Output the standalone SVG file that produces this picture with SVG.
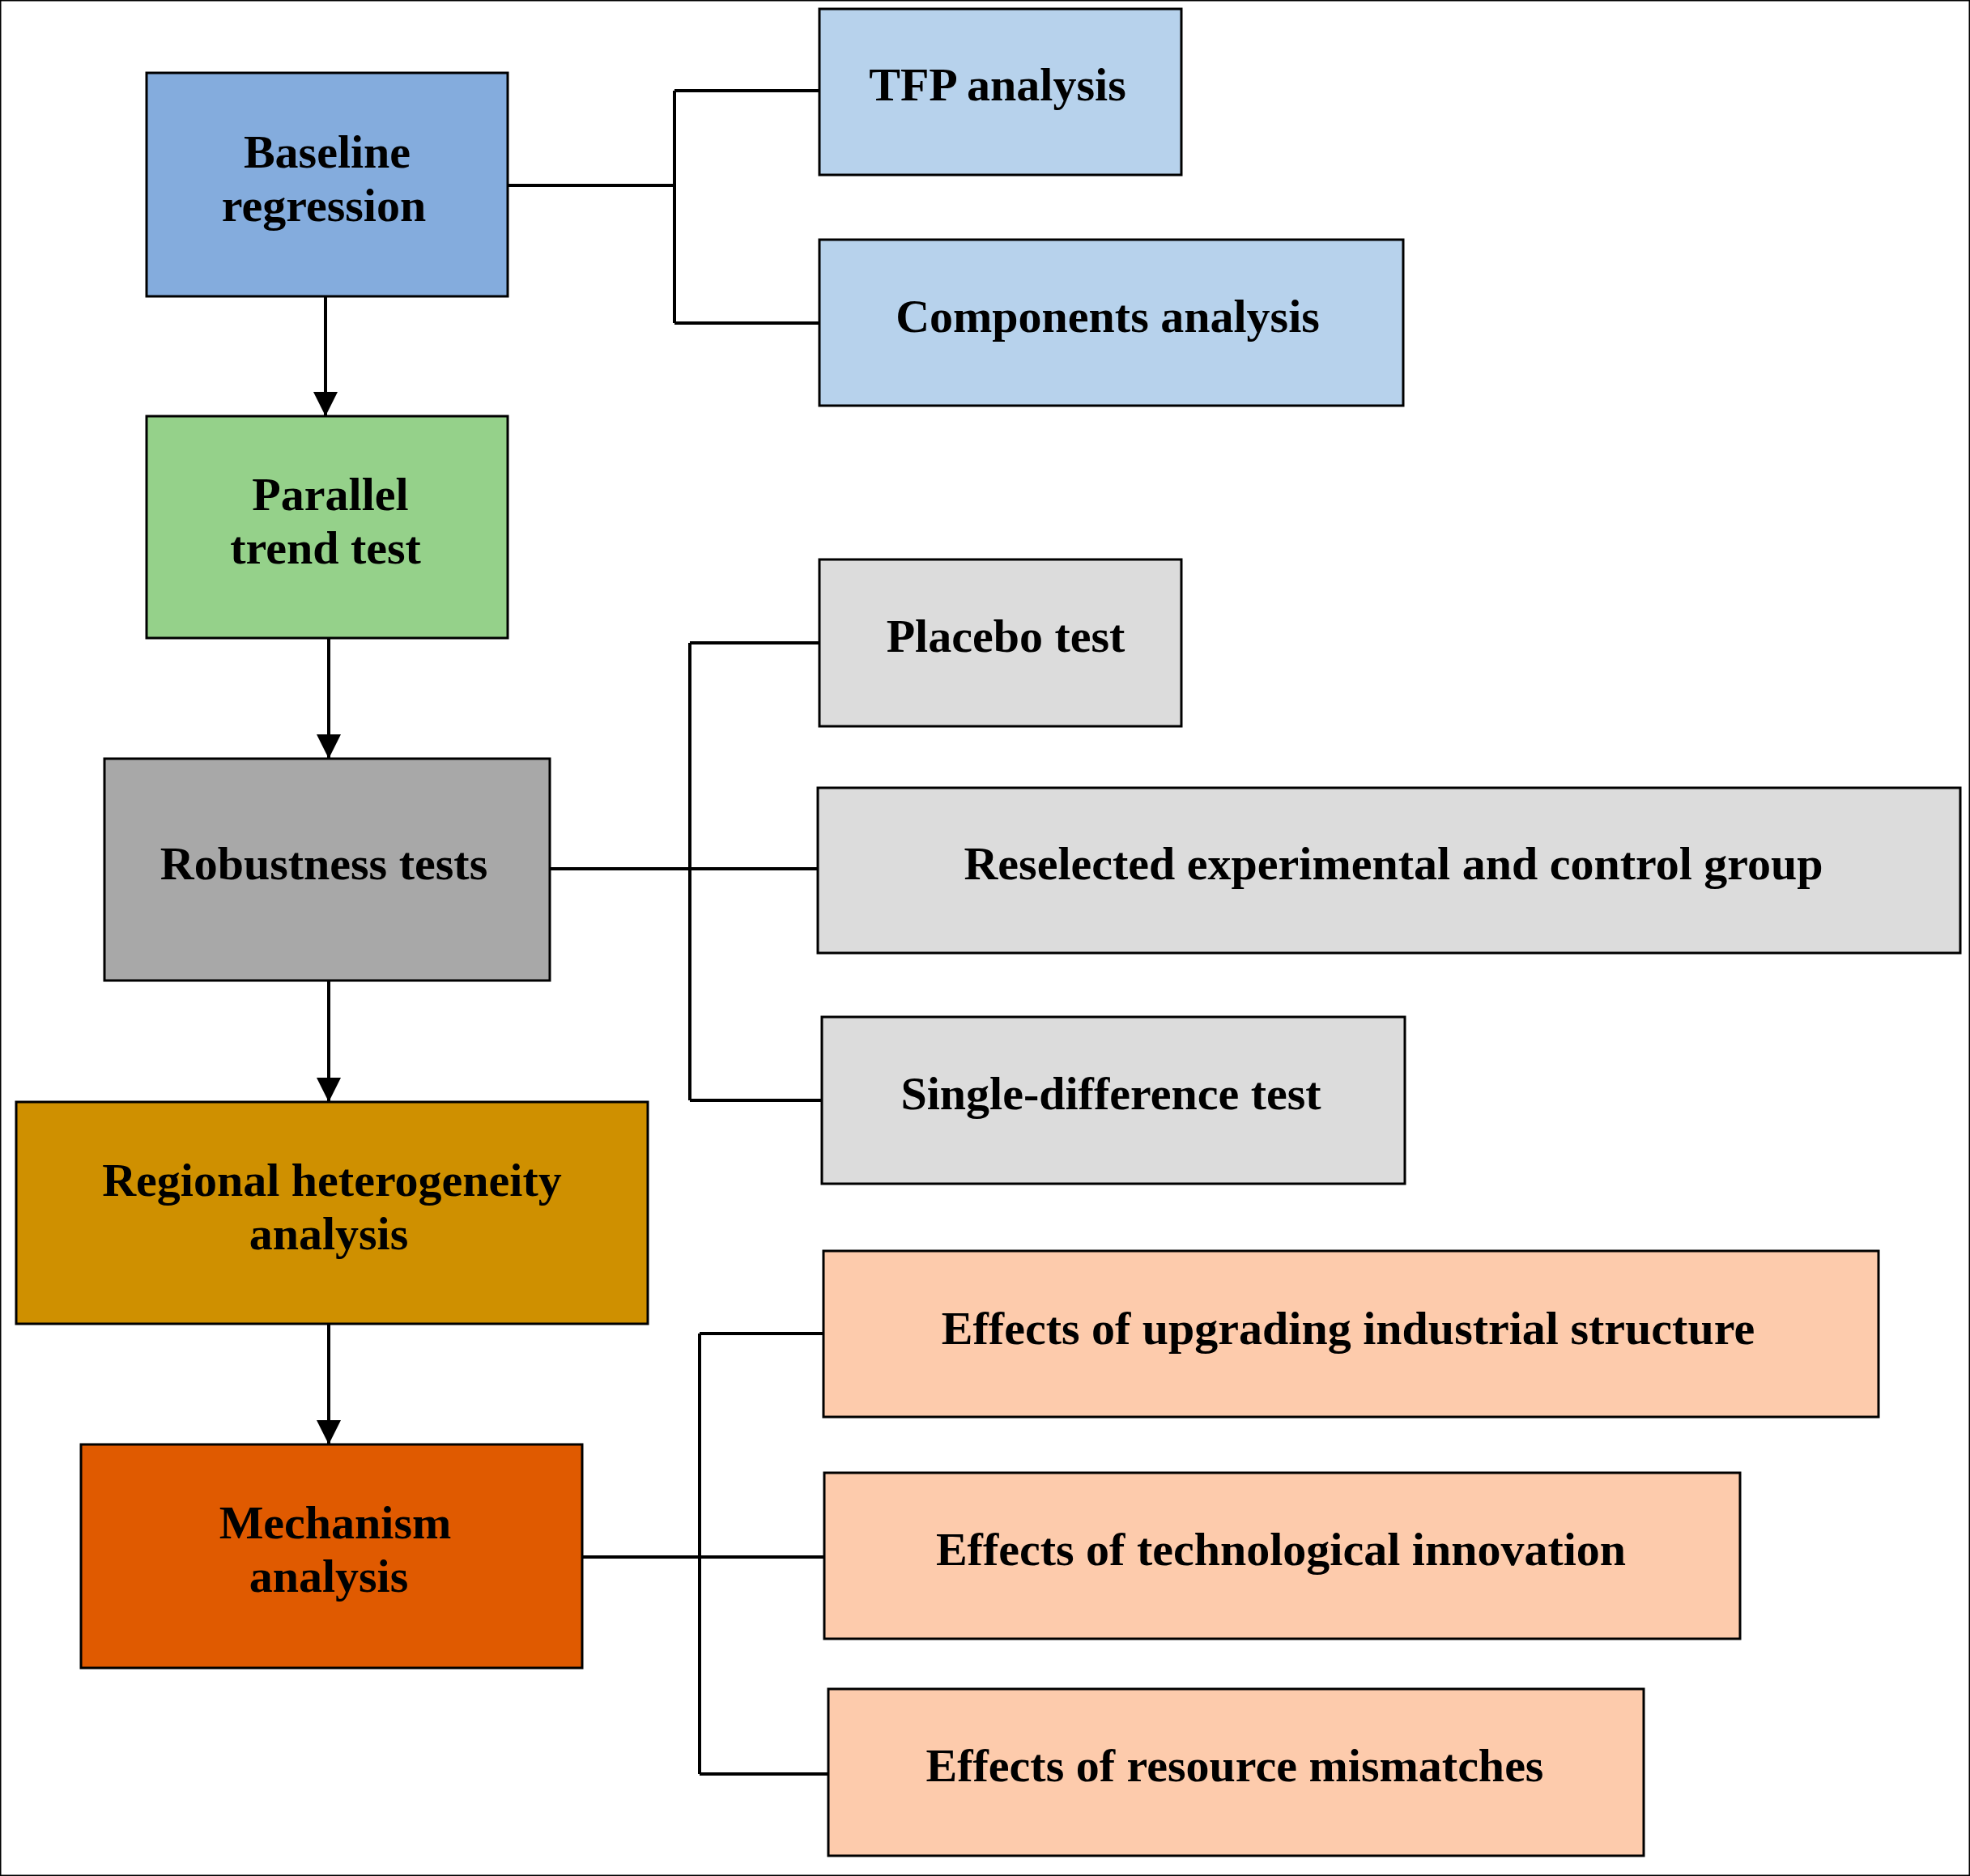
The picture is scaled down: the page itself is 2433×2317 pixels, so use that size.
<svg xmlns="http://www.w3.org/2000/svg" width="2433" height="2317" viewBox="0 0 2433 2317">
<style>
text{font-family:"Liberation Serif","DejaVu Serif",serif;font-weight:bold;font-size:58px;fill:#000;text-anchor:middle}
rect{stroke:#000;stroke-width:3}
.c{fill:none;stroke:#000;stroke-width:4}
</style>
<defs><marker id="a" viewBox="0 0 10 10" refX="10" refY="5" markerWidth="10" markerHeight="10" markerUnits="userSpaceOnUse" orient="auto"><path d="M0,0 L10,5 L0,10 z" fill="#000"/></marker>
<marker id="ah" viewBox="0 0 10 10" refX="10" refY="5" markerWidth="34" markerHeight="30" markerUnits="userSpaceOnUse" orient="auto"><path d="M0,0 L10,5 L0,10 z" fill="#000"/></marker></defs>
<rect width="2433" height="2317" fill="#fff" stroke="none"/>
<g id="connectors">
<path class="c" d="M627,229 H833 M833,112 V399 M833,112 H1012 M833,399 H1012"/>
<path class="c" d="M679,1073 H1010 M852,794 V1359 M852,794 H1012 M852,1359 H1015"/>
<path class="c" d="M719,1923 H1018 M864,1647 V2191 M864,1647 H1017 M864,2191 H1023"/>
<path class="c" marker-end="url(#ah)" d="M402,366 V514"/>
<path class="c" marker-end="url(#ah)" d="M406,788 V937"/>
<path class="c" marker-end="url(#ah)" d="M406,1211 V1361"/>
<path class="c" marker-end="url(#ah)" d="M406,1635 V1784"/>
</g>
<g id="baseline"><rect x="181" y="90" width="446" height="276" fill="#84acdd" stroke="#1f4e9a"/><text x="404" y="207">Baseline</text><text x="400" y="273">regression</text></g>
<g id="tfp"><rect x="1012" y="11" width="447" height="205" fill="#b7d2ec"/><text x="1232" y="124">TFP analysis</text></g>
<g id="components"><rect x="1012" y="296" width="721" height="205" fill="#b7d2ec"/><text x="1368" y="410">Components analysis</text></g>
<g id="parallel"><rect x="181" y="514" width="446" height="274" fill="#95d18a"/><text x="408" y="630">Parallel</text><text x="402" y="696">trend test</text></g>
<g id="robustness"><rect x="129" y="937" width="550" height="274" fill="#a8a8a8"/><text x="400" y="1086">Robustness tests</text></g>
<g id="placebo"><rect x="1012" y="691" width="447" height="206" fill="#dcdcdc"/><text x="1242" y="805">Placebo test</text></g>
<g id="reselected"><rect x="1010" y="973" width="1411" height="204" fill="#dcdcdc"/><text x="1721" y="1086">Reselected experimental and control group</text></g>
<g id="single"><rect x="1015" y="1256" width="720" height="206" fill="#dcdcdc"/><text x="1372" y="1370">Single-difference test</text></g>
<g id="regional"><rect x="20" y="1361" width="780" height="274" fill="#cf9000"/><text x="410" y="1477">Regional heterogeneity</text><text x="406" y="1543">analysis</text></g>
<g id="mechanism"><rect x="100" y="1784" width="619" height="276" fill="#e05a00"/><text x="414" y="1900">Mechanism</text><text x="406" y="1966">analysis</text></g>
<g id="upgrading"><rect x="1017" y="1545" width="1303" height="205" fill="#fdcbac"/><text x="1665" y="1660">Effects of upgrading industrial structure</text></g>
<g id="tech"><rect x="1018" y="1819" width="1131" height="205" fill="#fdcbac"/><text x="1582" y="1933">Effects of technological innovation</text></g>
<g id="resource"><rect x="1023" y="2086" width="1007" height="206" fill="#fdcbac"/><text x="1525" y="2200">Effects of resource mismatches</text></g>
</svg>
